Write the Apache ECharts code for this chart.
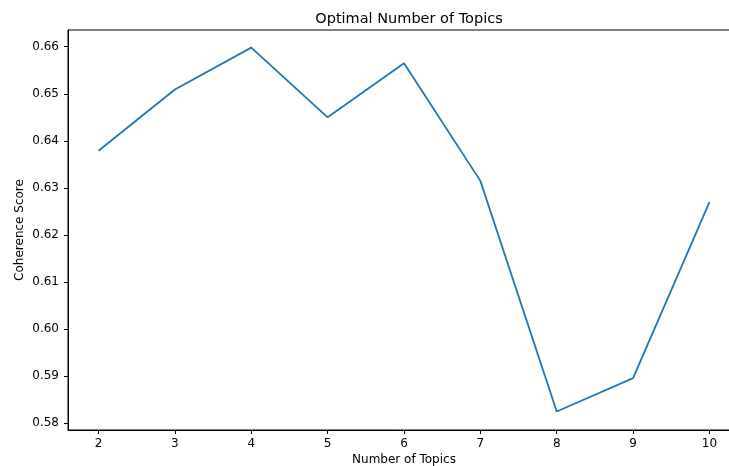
<!DOCTYPE html>
<html>
<head>
<meta charset="utf-8">
<script src="https://cdn.jsdelivr.net/npm/echarts@6/dist/echarts.min.js"></script>
<style>html,body{margin:0;padding:0;background:#fff;}#c{width:729px;height:466px;}</style>
</head>
<body>
<div id="c"></div>
<script>
var topics = [2, 3, 4, 5, 6, 7, 8, 9, 10];
var coherence = [0.6379, 0.6509, 0.6598, 0.6450, 0.6565, 0.6315, 0.5825, 0.5896, 0.6270];
var xTicks = [2, 3, 4, 5, 6, 7, 8, 9, 10];
var yTicks = [0.58, 0.59, 0.60, 0.61, 0.62, 0.63, 0.64, 0.65, 0.66];

var font = 'DejaVu Sans';
var chart = echarts.init(document.getElementById('c'), null, {renderer: 'canvas'});
chart.setOption({
  animation: false,
  backgroundColor: '#fff',
  title: {
    text: 'Optimal Number of Topics',
    left: 404, top: 7, textAlign: 'center',
    textStyle: {fontFamily: font, fontSize: 14.5, fontWeight: 'normal', color: '#000'}
  },
  grid: {left: 68, top: 30, width: 672, height: 400, show: true, borderColor: '#000', borderWidth: 1,
    backgroundColor: 'transparent', outerBoundsMode: 'none', containLabel: false},
  xAxis: {
    type: 'value', min: 1.6, max: 10.4,
    name: 'Number of Topics', nameLocation: 'middle', nameGap: 24, nameMoveOverlap: false,
    nameTextStyle: {fontFamily: font, fontSize: 12, color: '#000'},
    axisLine: {show: true, lineStyle: {color: '#000', width: 1}},
    axisTick: {show: true, length: 4, lineStyle: {color: '#000', width: 1}, customValues: xTicks},
    axisLabel: {fontFamily: font, fontSize: 12, color: '#000', margin: 8, customValues: xTicks,
      formatter: function (v) { return String(v); }},
    splitLine: {show: false}
  },
  yAxis: {
    type: 'value', min: 0.57858, max: 0.66355,
    name: 'Coherence Score', nameLocation: 'middle', nameGap: 42, nameRotate: 90, nameMoveOverlap: false,
    nameTextStyle: {fontFamily: font, fontSize: 12, color: '#000'},
    axisLine: {show: true, lineStyle: {color: '#000', width: 1}},
    axisTick: {show: true, length: 4, lineStyle: {color: '#000', width: 1}, customValues: yTicks},
    axisLabel: {fontFamily: font, fontSize: 12, color: '#000', margin: 9, customValues: yTicks,
      formatter: function (v) { return v.toFixed(2); }},
    splitLine: {show: false}
  },
  series: [{
    type: 'line',
    data: topics.map(function (t, i) { return [t, coherence[i]]; }),
    showSymbol: false,
    lineStyle: {color: '#1f77b4', width: 1.8},
    itemStyle: {color: '#1f77b4'}
  }]
});
</script>
</body>
</html>
